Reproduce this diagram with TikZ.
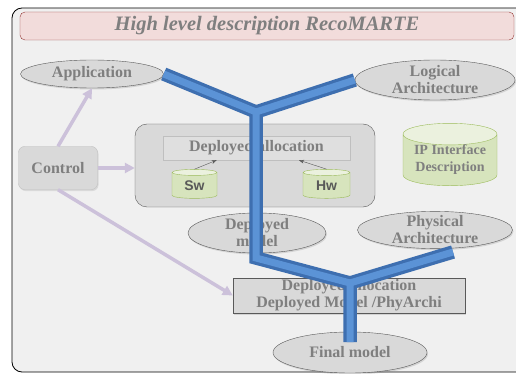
\documentclass[tikz,border=0pt]{standalone}
\usepackage{fontspec}
\setmainfont{Liberation Serif}
\newfontfamily\canfont{Liberation Sans}
\usepackage{tikz}
\usetikzlibrary{positioning, shapes.geometric, arrows.meta, shadows}
\usepackage{xcolor}

\definecolor{paper}{HTML}{F0F0F0}
\definecolor{inkgray}{HTML}{7F7F7F}
\definecolor{titlefill}{HTML}{F2DCDB}
\definecolor{titleline}{HTML}{953735}
\definecolor{ovalfill}{HTML}{D9D9D9}
\definecolor{ovalline}{HTML}{595959}
\definecolor{softline}{HTML}{BFBFBF}
\definecolor{canbody}{HTML}{D7E4BD}
\definecolor{cantop}{HTML}{EBF1DE}
\definecolor{canline}{HTML}{9BBB59}
\definecolor{lilac}{HTML}{CCC1DA}
\definecolor{barblue}{HTML}{3E6FB0}
\definecolor{barlight}{HTML}{5B93D6}

\begin{document}
\begin{tikzpicture}[x=1pt, y=-1pt,
	txt/.style={text=inkgray, font=\fontsize{16}{17}\selectfont\bfseries, align=center},
	oval/.style={ellipse, draw=ovalline, fill=ovalfill, txt, inner sep=-1pt,
		drop shadow={opacity=0.25, shadow xshift=1pt, shadow yshift=-1.5pt}},
	plainbox/.style={rectangle, draw=ovalline, fill=ovalfill, txt, inner sep=0pt},
	can/.style={cylinder, shape border rotate=90, aspect=0.3, draw=canline,
		cylinder uses custom fill, cylinder body fill=canbody, cylinder end fill=cantop,
		inner sep=0pt, align=center},
	ctl/.style={draw=lilac, line width=3.5pt, -{Triangle[length=10pt, width=10pt]}},
	bar/.style={line width=13.5pt, draw=barblue, line join=miter},
	barhi/.style={line width=7pt, draw=barlight, line join=miter},
	]
	\useasboundingbox (0,0) rectangle (516,374);
	\clip (0,0) rectangle (516,374);

	% frame and title
	\draw[rounded corners=10pt, fill=paper, line width=0.8pt] (12,8) rectangle (545,372);
	\node[rectangle, rounded corners=5pt, draw=titleline, fill=titlefill,
		minimum width=494pt, minimum height=28pt, text=inkgray,
		font=\fontsize{20.5}{21}\selectfont\bfseries\itshape] (title) at (267,26)
		{High level description RecoMARTE};

	% models
	\node[oval, minimum width=143pt, minimum height=28pt] (app)   at (92,74)  {Application};
	\node[oval, minimum width=160pt, minimum height=40pt] (logic) at (435,80) {Logical\\Architecture};
	\node[oval, minimum width=138pt, minimum height=40pt] (dm)    at (257,233) {Deployed\\model};
	\node[oval, minimum width=155pt, minimum height=35pt] (phys)  at (435,230) {Physical\\Architecture};
	\node[oval, minimum width=154pt, minimum height=41pt] (final) at (350,352.5) {Final model};

	% control
	\node[rectangle, rounded corners=6pt, draw=softline, fill=ovalfill, txt,
		minimum width=79pt, minimum height=43pt,
		drop shadow={opacity=0.2, shadow xshift=1pt, shadow yshift=-1.5pt}] (ctrl) at (58,168) {Control};

	% deployed allocation group
	\node[rectangle, rounded corners=12pt, draw=ovalline, fill=ovalfill,
		minimum width=240pt, minimum height=83pt] (grp) at (255,165.5) {};
	\node[rectangle, draw=softline, fill=ovalfill!85!white, txt,
		minimum width=187pt, minimum height=24pt,
		drop shadow={opacity=0.2, shadow xshift=1pt, shadow yshift=-1.5pt}] (dalloc) at (256.5,148) {Deployed allocation};
	\node[can, minimum width=45pt, minimum height=29pt, text=ovalline,
		font=\canfont\fontsize{14}{14}\selectfont\bfseries] (sw) at (194.5,185.5) {Sw};
	\node[can, minimum width=47pt, minimum height=29pt, text=ovalline,
		font=\canfont\fontsize{14}{14}\selectfont\bfseries] (hw) at (326.5,185.5) {Hw};
	\draw[-{Stealth[length=5pt]}, ovalline, thin] (sw.north) -- (dalloc.197);
	\draw[-{Stealth[length=5pt]}, ovalline, thin] (hw.north) -- (dalloc.344);

	\node[can, minimum width=94pt, minimum height=56pt, text=inkgray,
		font=\fontsize{14}{17}\selectfont\bfseries] (ip) at (450,160) {IP Interface\\Description};

	\node[plainbox, minimum width=232pt, minimum height=35pt,
		drop shadow={opacity=0.25, shadow xshift=1pt, shadow yshift=-1.5pt}] (low) at (349,295.5)
		{Deployed allocation\\Deployed Model /PhyArchi};

	% control arrows
	\draw[ctl] (ctrl.north) -- (app.south);
	\draw[ctl] (ctrl.east) -- (ctrl.east -| grp.west);
	\draw[ctl] (ctrl.south) -- (low.west);

	% blue flow
	\coordinate (j1)   at (256,112);
	\coordinate (bend) at (256,258);
	\coordinate (j2)   at (350,283);
	\coordinate (fm)   at (350,342);
	\coordinate (pa)   at (453,252);
	\draw[bar] (app.east) -- (j1) -- (bend) -- (j2) -- (fm);
	\draw[bar] (logic.west) -- (j1);
	\draw[bar] (pa) -- (j2);
	\draw[barhi] (app.east) -- (j1) -- (bend) -- (j2) -- (fm);
	\draw[barhi] (logic.west) -- (j1);
	\draw[barhi] (pa) -- (j2);
\end{tikzpicture}
\end{document}
